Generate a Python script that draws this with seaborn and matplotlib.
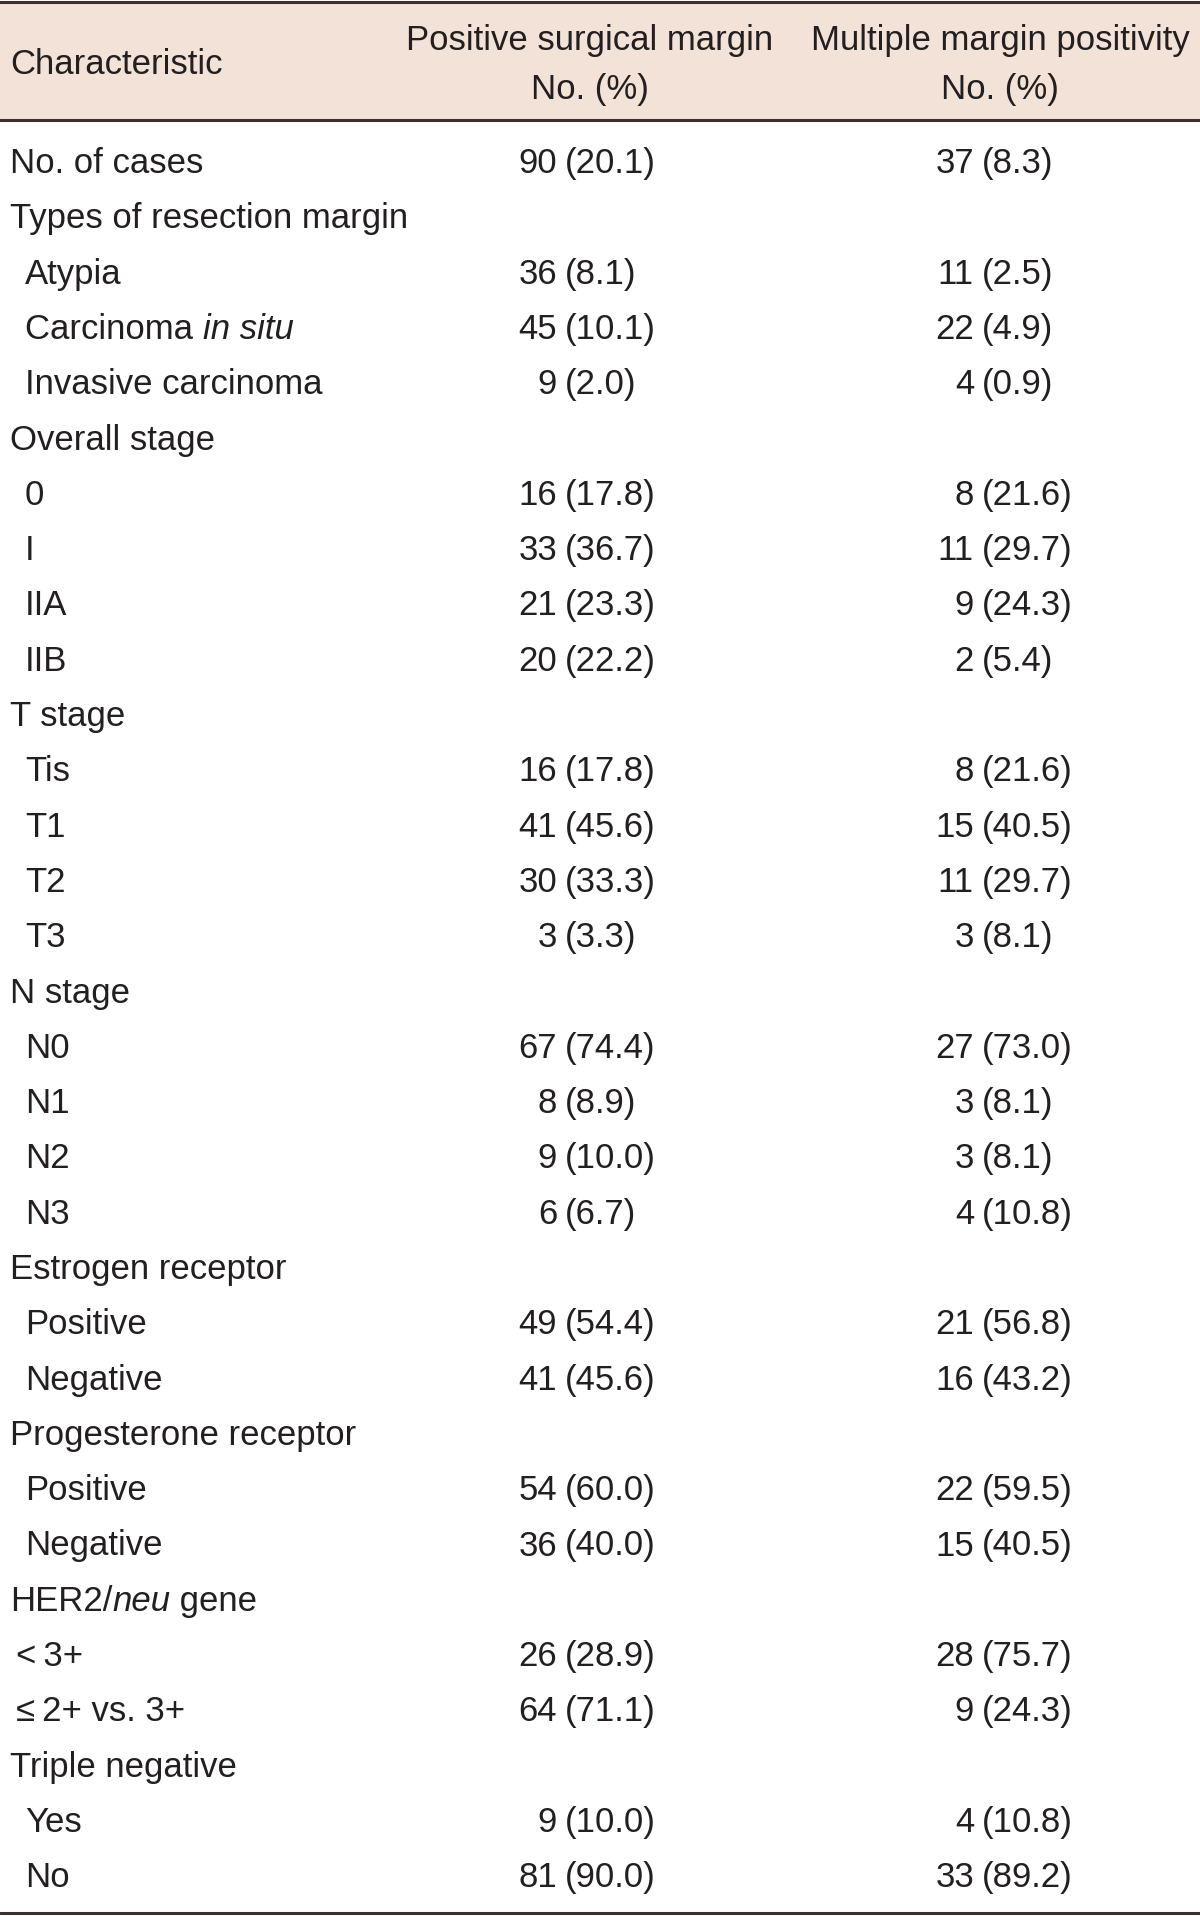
import matplotlib
matplotlib.use('Agg')

import matplotlib.pyplot as plt
import seaborn as sns

# table content
labels = [
    'No. of cases', 'Types of resection margin', 'Atypia', 'Carcinoma |in situ',
    'Invasive carcinoma', 'Overall stage', '0', 'I', 'IIA', 'IIB',
    'T stage', 'Tis', 'T1', 'T2', 'T3',
    'N stage', 'N0', 'N1', 'N2', 'N3',
    'Estrogen receptor', 'Positive', 'Negative',
    'Progesterone receptor', 'Positive', 'Negative',
    'HER2/|neu| gene', '<\u20093+', '≤\u20092+ vs. 3+',
    'Triple negative', 'Yes', 'No',
]
# 0 = group row, 1 = sub item, 2 = small indent
indent = [0, 0, 1, 1, 1, 0, 1, 1, 1, 1, 0, 1, 1, 1, 1, 0, 1, 1, 1, 1,
          0, 1, 1, 0, 1, 1, 0, 2, 2, 0, 1, 1]
psm_n = [90, None, 36, 45, 9, None, 16, 33, 21, 20, None, 16, 41, 30, 3,
         None, 67, 8, 9, 6, None, 49, 41, None, 54, 36, None, 26, 64,
         None, 9, 81]
psm_pct = [20.1, None, 8.1, 10.1, 2.0, None, 17.8, 36.7, 23.3, 22.2, None,
           17.8, 45.6, 33.3, 3.3, None, 74.4, 8.9, 10.0, 6.7, None, 54.4,
           45.6, None, 60.0, 40.0, None, 28.9, 71.1, None, 10.0, 90.0]
mmp_n = [37, None, 11, 22, 4, None, 8, 11, 9, 2, None, 8, 15, 11, 3,
         None, 27, 3, 3, 4, None, 21, 16, None, 22, 15, None, 28, 9,
         None, 4, 33]
mmp_pct = [8.3, None, 2.5, 4.9, 0.9, None, 21.6, 29.7, 24.3, 5.4, None,
           21.6, 40.5, 29.7, 8.1, None, 73.0, 8.1, 8.1, 10.8, None, 56.8,
           43.2, None, 59.5, 40.5, None, 75.7, 24.3, None, 10.8, 89.2]
header_cols = ['Characteristic', 'Positive surgical margin\nNo. (%)',
               'Multiple margin positivity\nNo. (%)']

sns.set_theme(style='white')
plt.rcParams['font.family'] = ['Liberation Sans', 'DejaVu Sans']

W, H = 1200, 1916
fig = plt.figure(figsize=(W / 100, H / 100), dpi=100)
ax = fig.add_axes([0, 0, 1, 1])
ax.set_xlim(0, W)
ax.set_ylim(H, 0)
ax.axis('off')

txt_col = '#231f20'
line_col = '#3b302c'
fs = 25

# header band + rules
ax.axhspan(2, 119, color='#f3e2d8', lw=0)
ax.axhline(1.5, color=line_col, lw=2.2)
ax.axhline(120, color=line_col, lw=2.2)
ax.axhline(1913, color=line_col, lw=2.2)

cap = 13  # half cap height, px
ax.text(10, 61 + cap, header_cols[0], fontsize=fs, color=txt_col, va='baseline')
for xc, head in zip([590, 1000], header_cols[1:]):
    l1, l2 = head.split('\n')
    ax.text(xc, 37 + cap, l1, fontsize=fs, color=txt_col, ha='center', va='baseline')
    ax.text(xc, 86 + cap, l2, fontsize=fs, color=txt_col, ha='center', va='baseline')

fig.canvas.draw()
renderer = fig.canvas.get_renderer()


def draw_mixed(x, y, label):
    # '|' toggles italics
    parts = label.split('|')
    for i, part in enumerate(parts):
        if not part:
            continue
        t = ax.text(x, y, part, fontsize=fs, color=txt_col, va='baseline',
                    style='italic' if i % 2 else 'normal')
        bb = t.get_window_extent(renderer=renderer)
        x += bb.width


row0, step = 160, 55.3
indent_x = {0: 10, 1: 25, 2: 16}
for i, lab in enumerate(labels):
    yb = row0 + i * step + cap
    draw_mixed(indent_x[indent[i]], yb, lab)
    for n, p, xr in [(psm_n[i], psm_pct[i], 557), (mmp_n[i], mmp_pct[i], 974)]:
        if n is None:
            continue
        ax.text(xr, yb, f'{n}', fontsize=fs, color=txt_col, ha='right', va='baseline')
        ax.text(xr + 8, yb, f'({p:.1f})', fontsize=fs, color=txt_col, ha='left', va='baseline')

fig.savefig('out.png', dpi=100, facecolor='white')
